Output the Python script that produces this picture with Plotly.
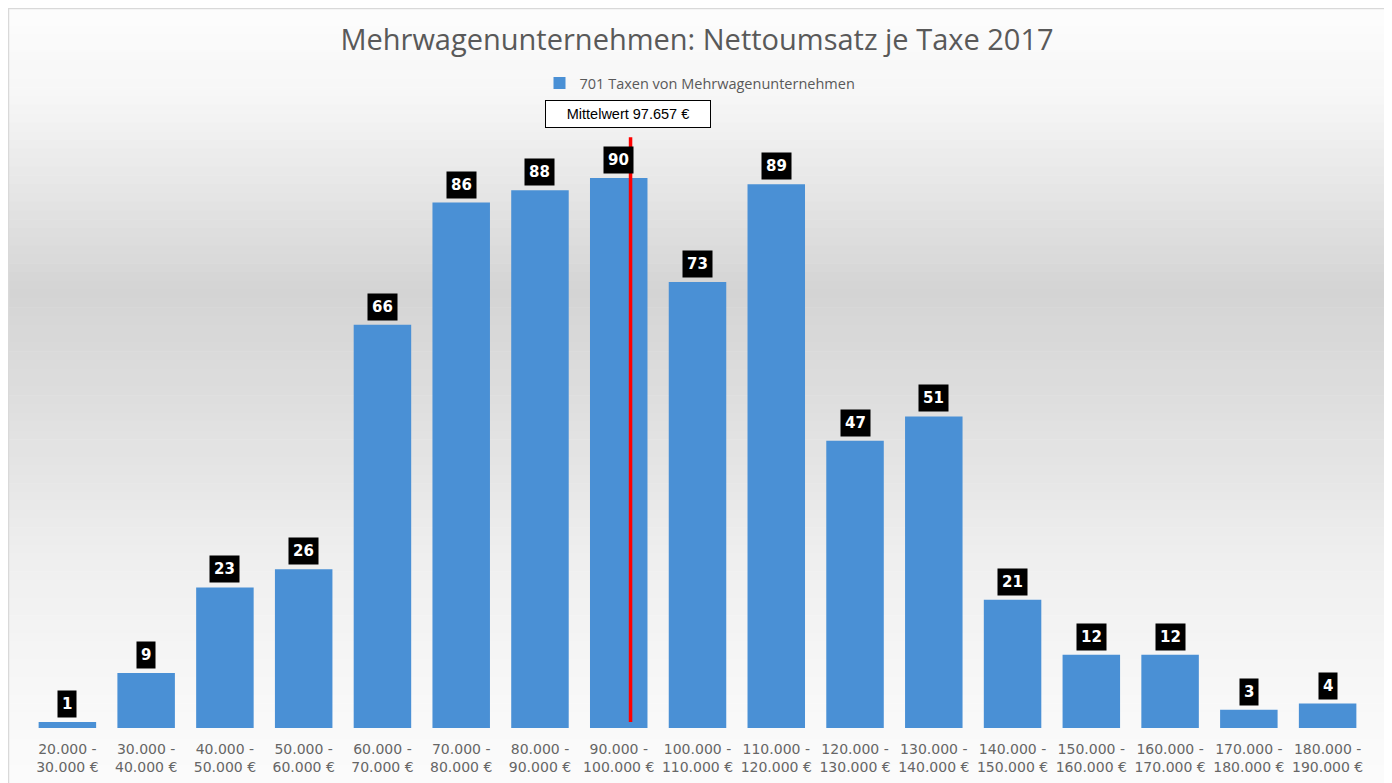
import plotly.graph_objects as go

# ---- data ----
categories = ["20.000 -<br>30.000 €", "30.000 -<br>40.000 €", "40.000 -<br>50.000 €",
              "50.000 -<br>60.000 €", "60.000 -<br>70.000 €", "70.000 -<br>80.000 €",
              "80.000 -<br>90.000 €", "90.000 -<br>100.000 €", "100.000 -<br>110.000 €",
              "110.000 -<br>120.000 €", "120.000 -<br>130.000 €", "130.000 -<br>140.000 €",
              "140.000 -<br>150.000 €", "150.000 -<br>160.000 €", "160.000 -<br>170.000 €",
              "170.000 -<br>180.000 €", "180.000 -<br>190.000 €"]
counts = [1, 9, 23, 26, 66, 86, 88, 90, 73, 89, 47, 51, 21, 12, 12, 3, 4]
series_name = "701 Taxen von Mehrwagenunternehmen"
mean_label = "Mittelwert 97.657 €"
mean_position = 7.15  # position on category axis where the mean line is drawn

title = "Mehrwagenunternehmen: Nettoumsatz je Taxe 2017"

# ---- layout geometry (figure pixels; page adds an 8px body offset) ----
OFF = 8
W, H = 1392, 783
ML, MR, MT, MB = 28 - OFF, 25 + OFF, 117 - OFF, 55 + OFF
plot_w = W - ML - MR
plot_h = H - MT - MB
YMAX = 100


def sx(p):  # screen px -> paper x
    return (p - OFF - ML) / plot_w


def sy(p):  # screen px -> paper y
    return (H - MB - (p - OFF)) / plot_h


# background vertical gradient (styling)
stops = [(0, (253, 253, 253)), (100, (246, 246, 246)), (290, (212, 212, 212)),
         (420, (224, 224, 224)), (560, (239, 239, 239)), (700, (248, 248, 248)),
         (800, (252, 252, 252))]


def color_at(y):
    for (y0, c0), (y1, c1) in zip(stops[:-1], stops[1:]):
        if y0 <= y <= y1:
            t = (y - y0) / (y1 - y0)
            return "rgb(%d,%d,%d)" % tuple(round(a + (b - a) * t) for a, b in zip(c0, c1))
    return "rgb(252,252,252)"


shapes = []
n_strips = 90
top, bot = 8, 800
for k in range(n_strips):
    ytop = top + k * ((bot - top) / n_strips)
    ybot = top + (k + 1) * ((bot - top) / n_strips)
    shapes.append(dict(type="rect", xref="paper", yref="paper", layer="below",
                       x0=sx(8), x1=sx(1388),
                       y0=sy(ybot + 0.5), y1=sy(ytop),
                       fillcolor=color_at((ytop + ybot) / 2), line=dict(width=0)))
# frame
for (x0, y0, x1, y1) in [(1388, 800, 1388, 8), (8, 8.5, 1388, 8.5), (8.5, 8, 8.5, 800)]:
    shapes.append(dict(type="line", xref="paper", yref="paper", layer="below",
                       x0=sx(x0), x1=sx(x1), y0=sy(y0), y1=sy(y1),
                       line=dict(color="#d9d9d9", width=1.5)))
# mean line
shapes.append(dict(type="line", xref="x", yref="y", x0=mean_position, x1=mean_position,
                   y0=1, y1=96.7, line=dict(color="#ff0000", width=3.5), layer="above"))

fig = go.Figure()
fig.add_trace(go.Bar(x=list(range(len(categories))), y=counts, name=series_name,
                     marker=dict(color="#4a90d5", line=dict(width=0)),
                     showlegend=True))

annotations = []
for i, v in enumerate(counts):
    annotations.append(dict(x=i, y=v, xref="x", yref="y", text="<b>%d</b>" % v,
                            showarrow=False, yanchor="bottom", yshift=4,
                            font=dict(family="DejaVu Sans", size=15, color="white"),
                            bgcolor="black", borderpad=4))
annotations.append(dict(x=sx(628), y=sy(114), xref="paper", yref="paper",
                        text=mean_label, showarrow=False, xanchor="center", yanchor="middle",
                        font=dict(family="Liberation Sans, Arial", size=14.5, color="black"),
                        bgcolor="white", bordercolor="black", borderwidth=1, borderpad=5,
                        width=154, height=16, align="center"))

fig.update_layout(
    width=W, height=H,
    margin=dict(l=ML, r=MR, t=MT, b=MB),
    paper_bgcolor="white", plot_bgcolor="rgba(0,0,0,0)",
    title=dict(text=title, x=sx(697), xanchor="center", xref="paper",
               y=1 - (40 - OFF) / H, yanchor="middle",
               font=dict(family="Open Sans", size=29, color="#595959")),
    legend=dict(orientation="h", x=sx(700), xanchor="center", y=sy(83), yanchor="middle",
                font=dict(family="Open Sans", size=14.5, color="#595959"),
                bgcolor="rgba(0,0,0,0)", itemwidth=30),
    bargap=0.27,
    xaxis=dict(tickmode="array", tickvals=list(range(len(categories))), ticktext=categories,
               range=[-0.5, len(categories) - 0.5], showgrid=False, zeroline=False,
               showline=False, ticks="", ticklabelstandoff=11,
               tickfont=dict(family="DejaVu Sans", size=14, color="#666666")),
    yaxis=dict(range=[0, YMAX], visible=False, showgrid=False, zeroline=False),
    shapes=shapes, annotations=annotations,
)

fig.write_html("out.html")
